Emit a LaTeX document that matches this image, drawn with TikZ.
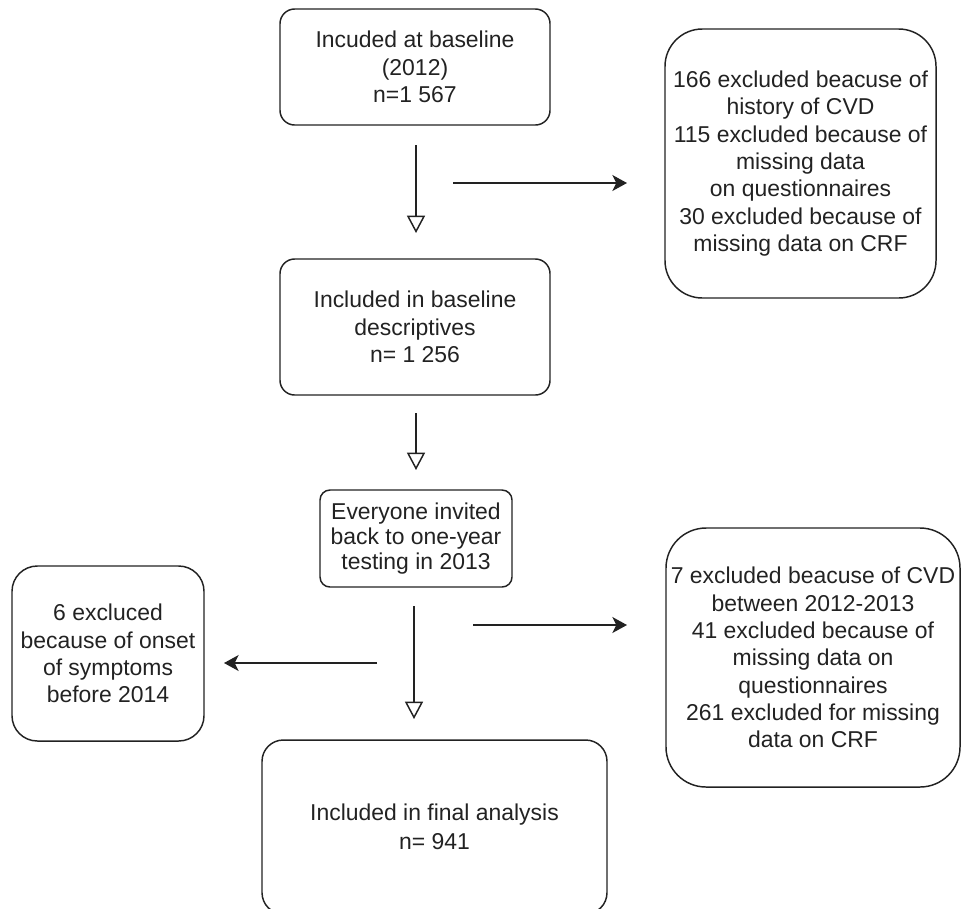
\documentclass[tikz,border=0pt]{standalone}
\usepackage{fontspec}
\setmainfont{Liberation Sans}
\usetikzlibrary{arrows.meta}
\definecolor{ink}{HTML}{222222}
\tikzset{
  box/.style={draw=ink, line width=1.1pt, align=center, inner sep=0pt, text=ink,
    font=\fontsize{17.2pt}{20.5pt}\selectfont},
  down/.style={draw=ink, line width=1.1pt, -{Triangle[open, width=13.5pt, length=13pt, line width=1.1pt]}},
  side/.style={draw=ink, line width=1.1pt, -{Stealth[length=11pt, width=12pt, inset=3pt]}}
}
\begin{document}
\begin{tikzpicture}[x=0.75pt, y=-0.75pt]
\useasboundingbox (0,0) rectangle (962,908);
% boxes
\node[box, rounded corners=11pt, minimum width=202.5pt, minimum height=87pt] (a) at (415,67)
  {Incuded at baseline\\(2012)\\n=1 567};
\node[box, rounded corners=28pt, minimum width=203.25pt, minimum height=201.75pt] (r1) at (800.5,163.5)
  {166 excluded beacuse of\\history of CVD\\115 excluded because of\\missing data\\on questionnaires\\30 excluded because of\\missing data on CRF};
\node[box, rounded corners=11pt, minimum width=202.5pt, minimum height=102pt] (b) at (415,327)
  {Included in baseline\\descriptives\\n= 1 256};
\node[box, rounded corners=7.5pt, minimum width=144pt, minimum height=72.75pt,
  font=\fontsize{17.2pt}{19pt}\selectfont] (c) at (416,538.5)
  {Everyone invited\\back to one-year\\testing in 2013};
\node[box, rounded corners=19pt, minimum width=144pt, minimum height=131.25pt] (d) at (108,653.5)
  {6 excluced\\because of onset\\of symptoms\\before 2014};
\node[box, rounded corners=30pt, minimum width=220.5pt, minimum height=194.25pt] (r2) at (813,657.5)
  {7 excluded beacuse of CVD\\between 2012-2013\\41 excluded because of\\missing data on\\questionnaires\\261 excluded for missing\\data on CRF};
\node[box, rounded corners=16pt, minimum width=258.75pt, minimum height=130.5pt,
  font=\fontsize{17.2pt}{22pt}\selectfont] (e) at (434.5,827)
  {Included in final analysis\\n= 941};
% connector ends
\coordinate (a1s) at (416,145);
\coordinate (a1e) at (416,233);
\coordinate (h1s) at (453,183);
\coordinate (h1e) at (627,183);
\coordinate (a2s) at (416,413);
\coordinate (a2e) at (416,470);
\coordinate (a3s) at (414,606);
\coordinate (a3e) at (414,719);
\coordinate (h2s) at (473,625);
\coordinate (h2e) at (627,625);
\coordinate (h3s) at (377,663);
\coordinate (h3e) at (224,663);
% connectors
\draw[down] (a1s) -- (a1e);
\draw[side] (h1s) -- (h1e);
\draw[down] (a2s) -- (a2e);
\draw[down] (a3s) -- (a3e);
\draw[side] (h2s) -- (h2e);
\draw[side] (h3s) -- (h3e);
\end{tikzpicture}
\end{document}
